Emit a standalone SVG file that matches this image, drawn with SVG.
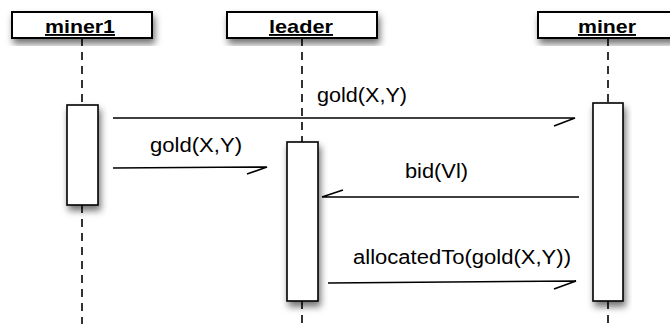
<svg xmlns="http://www.w3.org/2000/svg" width="670" height="324" viewBox="0 0 670 324">
<defs>
<filter id="sh" x="-30%" y="-30%" width="160%" height="160%">
<feDropShadow dx="2" dy="5" stdDeviation="3.5" flood-color="#000" flood-opacity="0.55"/>
</filter>
<style>
.hdr{fill:#fff;stroke:#000;stroke-width:2;filter:url(#sh)}
.act{fill:#fff;stroke:#000;stroke-width:1.6;filter:url(#sh)}
.life{stroke:#000;stroke-width:1.6;stroke-dasharray:8 6;fill:none}
.msg{stroke:#000;stroke-width:1.6;fill:none}
.ht{font-family:"Liberation Sans",Arial,sans-serif;font-weight:bold;font-size:19px;text-decoration:underline;fill:#000}
.lt{font-family:"Liberation Sans",Arial,sans-serif;font-size:20px;fill:#000}
</style>
</defs>
<rect width="670" height="324" fill="#fff"/>
<g id="lifelines">
<line class="life" x1="82" y1="38" x2="82" y2="105"/>
<line class="life" x1="82" y1="205" x2="82" y2="324"/>
<line class="life" x1="302" y1="38" x2="302" y2="142"/>
<line class="life" x1="302" y1="301" x2="302" y2="324"/>
<line class="life" x1="608" y1="38" x2="608" y2="103"/>
<line class="life" x1="608" y1="301" x2="608" y2="324"/>
</g>
<g id="miner1">
<rect class="hdr" x="12" y="12" width="140" height="26"/>
<text class="ht" x="80" y="33" text-anchor="middle" textLength="70" lengthAdjust="spacingAndGlyphs">miner1</text>
<rect class="act" x="67" y="105" width="31" height="100"/>
</g>
<g id="leader">
<rect class="hdr" x="227" y="12" width="150" height="26"/>
<text class="ht" x="301" y="33" text-anchor="middle" textLength="64" lengthAdjust="spacingAndGlyphs">leader</text>
<rect class="act" x="287" y="142" width="31" height="159"/>
</g>
<g id="miner">
<rect class="hdr" x="538" y="12" width="140" height="26"/>
<text class="ht" x="607" y="33" text-anchor="middle" textLength="58" lengthAdjust="spacingAndGlyphs">miner</text>
<rect class="act" x="593" y="103" width="30" height="198"/>
</g>
<g id="connectors">
<path class="msg" d="M113,118 L575,118 L554,126"/>
<path class="msg" d="M113,168 L267,167 L247,174"/>
<path class="msg" d="M579,197 L322,197 L343,190"/>
<path class="msg" d="M328,283 L576,281 L554,289"/>
</g>
<g id="labels">
<text class="lt" x="317" y="102" textLength="90" lengthAdjust="spacingAndGlyphs">gold(X,Y)</text>
<text class="lt" x="150" y="152" textLength="92" lengthAdjust="spacingAndGlyphs">gold(X,Y)</text>
<text class="lt" x="405" y="178" textLength="63" lengthAdjust="spacingAndGlyphs">bid(Vl)</text>
<rect x="349" y="242" width="233" height="26" fill="#fff"/>
<text class="lt" x="353" y="264" textLength="218" lengthAdjust="spacingAndGlyphs">allocatedTo(gold(X,Y))</text>
</g>
</svg>
